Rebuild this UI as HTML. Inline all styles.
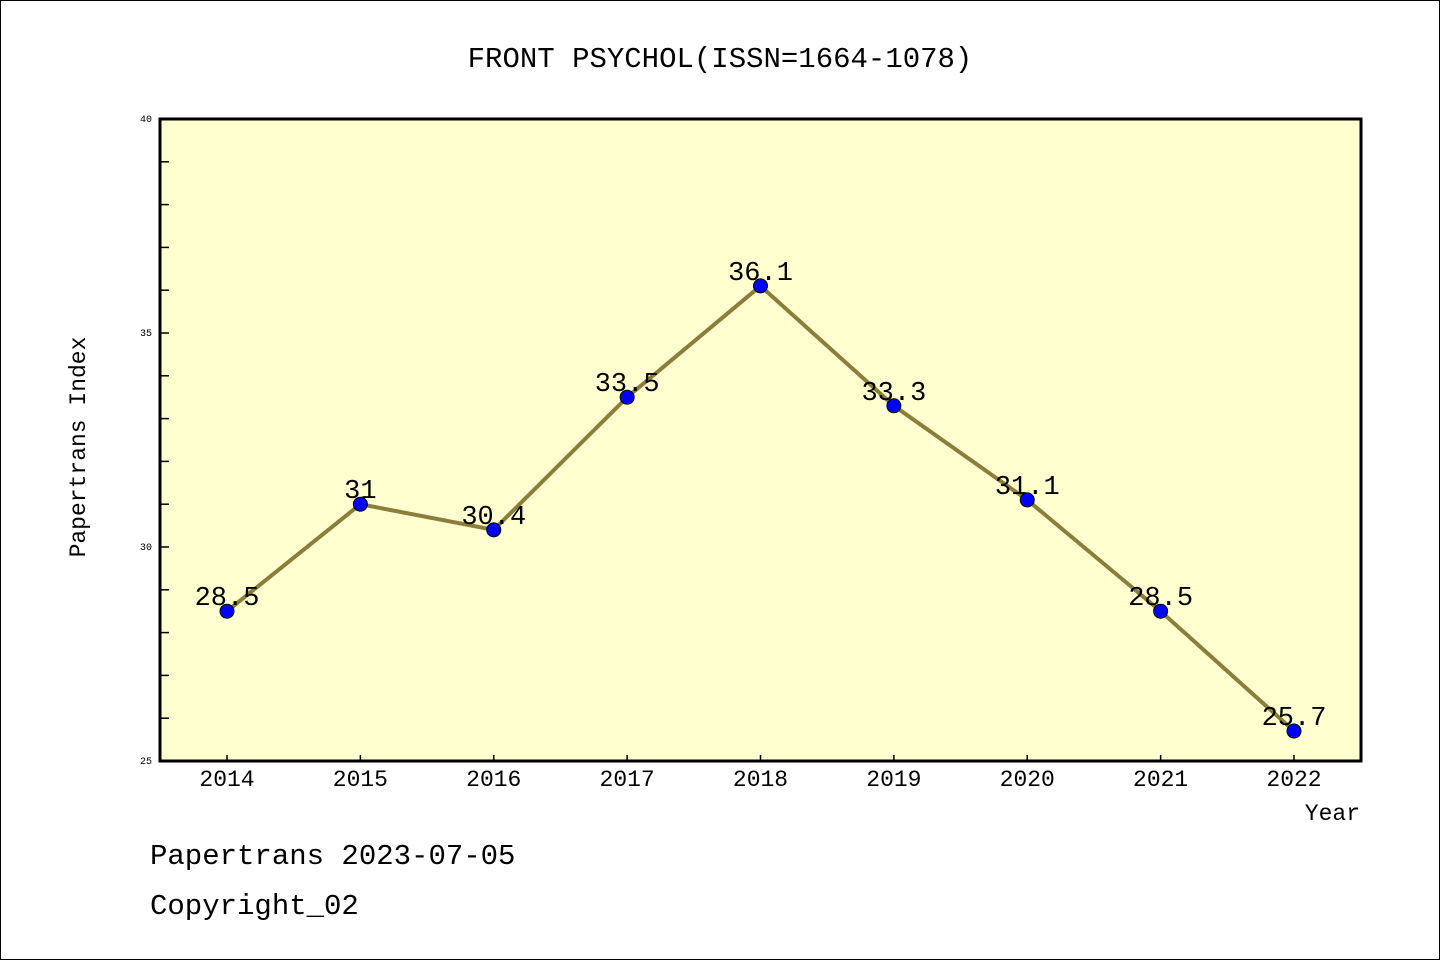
<!DOCTYPE html>
<html><head><meta charset="utf-8"><style>
body{margin:0;background:#fff;}
svg{display:block;font-family:"WenQuanYi Zen Hei Mono","Liberation Mono",monospace;}
</style></head><body>
<svg id="c" width="1440" height="960" xmlns="http://www.w3.org/2000/svg">
<rect x="0.5" y="0.5" width="1439" height="959" fill="#fff" stroke="#000"/>
<text x="720" y="67" font-size="29" text-anchor="middle">FRONT PSYCHOL(ISSN=1664-1078)</text>
<rect x="160" y="119" width="1201" height="642" fill="#ffffd0"/>
<g id="ticks"></g>
<g id="series"></g>
<rect x="160" y="119" width="1201" height="642" fill="none" stroke="#000" stroke-width="3"/>
<text x="85" y="447" font-size="23" text-anchor="middle" transform="rotate(-90 85 447)">Papertrans Index</text>
<text x="1360" y="820" font-size="23" text-anchor="end">Year</text>
<text x="150" y="864" font-size="29">Papertrans 2023-07-05</text>
<text x="150" y="914" font-size="29">Copyright_02</text>
</svg>
<script>
const categories=["2014","2015","2016","2017","2018","2019","2020","2021","2022"];
const values=[28.5,31,30.4,33.5,36.1,33.3,31.1,28.5,25.7];
const labels=["28.5","31","30.4","33.5","36.1","33.3","31.1","28.5","25.7"];
const yTicks=[25,30,35,40];
(function(){
const NS="http://www.w3.org/2000/svg";
const yMin=25,yMax=40,plotTop=119,plotBot=761;
const y=v=>plotBot-(v-yMin)/(yMax-yMin)*(plotBot-plotTop);
const x0=227,step=(1294-227)/(categories.length-1);
const x=i=>x0+i*step;
function mk(t,a,p){const e=document.createElementNS(NS,t);for(const k in a)e.setAttribute(k,a[k]);p.appendChild(e);return e;}
const tg=document.getElementById('ticks'),sg=document.getElementById('series');
for(let v=yMin+1;v<yMax;v++){
 const l=mk('line',{x1:160,x2:169,y1:y(v),y2:y(v),stroke:'#000','stroke-width':1.5},tg);
 
 
}
yTicks.forEach(v=>{
 const t=mk('text',{x:152,y:y(v)+3,'font-size':10,'text-anchor':'end'},tg);
 t.textContent=v;
 
 
});
categories.forEach((c,i)=>{
 const l=mk('line',{x1:x(i),x2:x(i),y1:plotBot,y2:plotBot-6,stroke:'#000','stroke-width':1.5},tg);
 
 
 const t=mk('text',{x:x(i),y:plotBot+25,'font-size':23,'text-anchor':'middle'},tg);
 t.textContent=c;
 
 
});
const pl=mk('polyline',{points:values.map((v,i)=>x(i)+','+y(v)).join(' '),fill:'none',stroke:'#8b7d3a','stroke-width':4},sg);


values.forEach((v,i)=>{
 const c=mk('circle',{cx:x(i),cy:y(v),r:7,fill:'#0000ff',stroke:'#000','stroke-width':1},sg);
 
 
 const t=mk('text',{x:x(i),y:y(v)-6,'font-size':27,'text-anchor':'middle'},sg);
 t.textContent=labels[i];
 
 
});
})();
</script>
</body></html>
